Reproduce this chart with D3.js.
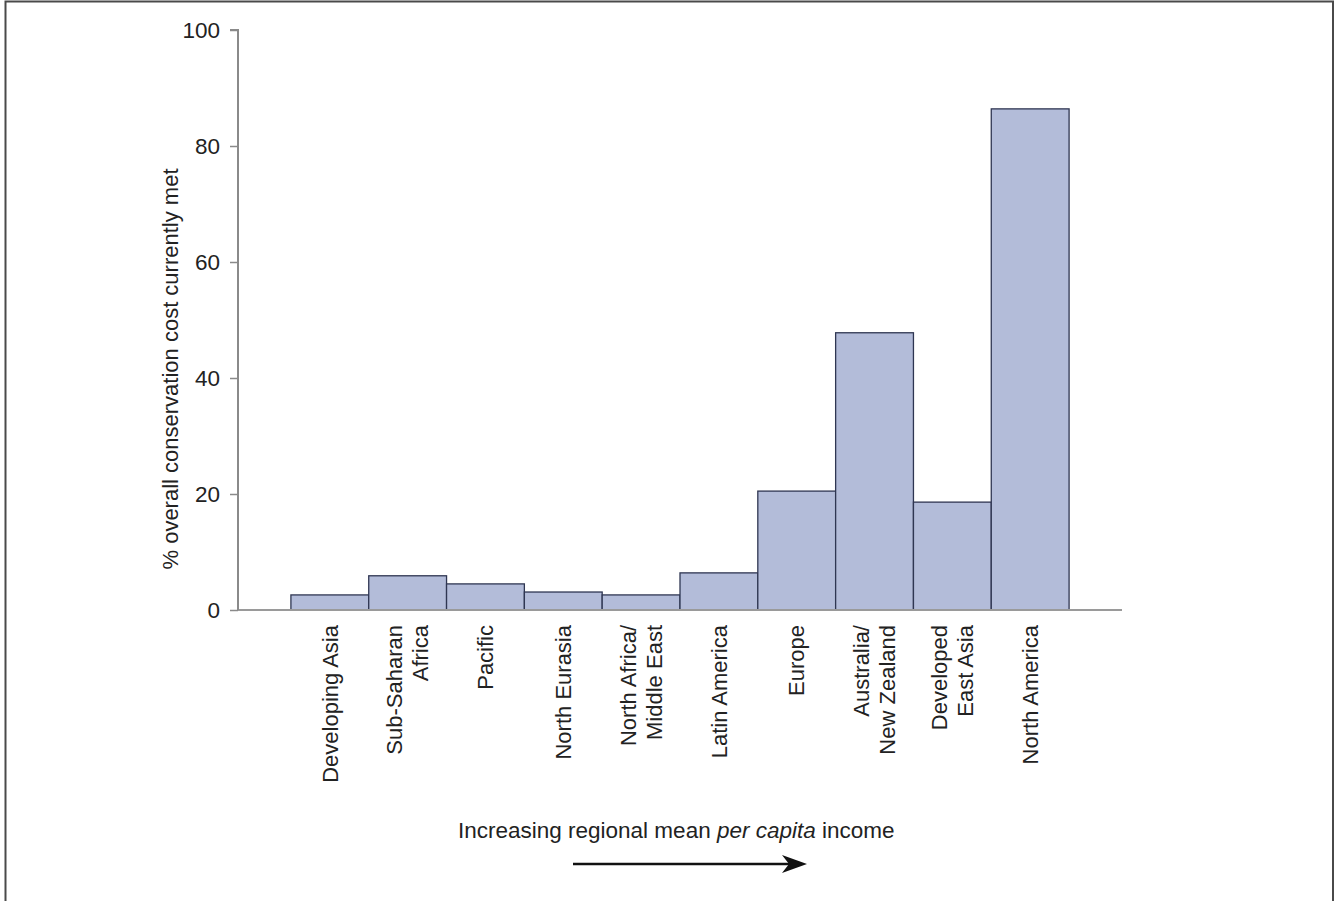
<!DOCTYPE html>
<html>
<head>
<meta charset="utf-8">
<script src="https://cdn.jsdelivr.net/npm/d3@7"></script>
<style>
  html, body { margin: 0; padding: 0; background: #fff; }
  svg { display: block; font-family: "Liberation Sans", Arial, Helvetica, sans-serif; }
</style>
</head>
<body>
<svg id="chart" width="1335" height="901"></svg>
<script>
const categories = ["Developing Asia", "Sub-Saharan Africa", "Pacific", "North Eurasia",
  "North Africa/ Middle East", "Latin America", "Europe", "Australia/ New Zealand",
  "Developed East Asia", "North America"];
const labelLines = [["Developing Asia"], ["Sub-Saharan", "Africa"], ["Pacific"], ["North Eurasia"],
  ["North Africa/", "Middle East"], ["Latin America"], ["Europe"], ["Australia/", "New Zealand"],
  ["Developed", "East Asia"], ["North America"]];
const values = [2.6, 5.9, 4.5, 3.1, 2.6, 6.4, 20.5, 47.8, 18.6, 86.4];
const yTicks = [0, 20, 40, 60, 80, 100];
const yTitle = "% overall conservation cost currently met";
const captionParts = [["Increasing regional mean ", false], ["per capita", true], [" income", false]];

const svg = d3.select("#chart");

// frame
svg.append("rect").attr("x", 5.5).attr("y", 1.5).attr("width", 1327.5).attr("height", 910)
  .attr("fill", "none").attr("stroke", "#4a4a4a").attr("stroke-width", 2);

const x = d3.scaleBand().domain(categories).range([238, 1122]).paddingInner(0).paddingOuter(0.68);
const y = d3.scaleLinear().domain([0, 100]).range([610, 30]);

// bars
svg.append("g").selectAll("rect").data(values).join("rect")
  .attr("x", (d, i) => x(categories[i]))
  .attr("y", d => y(d))
  .attr("width", x.bandwidth())
  .attr("height", d => y(0) - y(d))
  .attr("fill", "#b3bcd9")
  .attr("stroke", "#2f3652")
  .attr("stroke-width", 1.3);

// x baseline
svg.append("line").attr("x1", 238).attr("x2", 1122).attr("y1", y(0)).attr("y2", y(0))
  .attr("stroke", "#9a9a9a").attr("stroke-width", 2);

// y axis
const yAxis = d3.axisLeft(y).tickValues(yTicks).tickSize(8).tickPadding(10).tickFormat(d3.format("d"));
const gy = svg.append("g").attr("transform", "translate(238,0)").call(yAxis);
gy.select(".domain").attr("stroke", "#8a8a8a").attr("stroke-width", 2).attr("d", `M-8,${y(100)}H0V${y(0)}`);
gy.selectAll(".tick line").attr("stroke", "#8a8a8a").attr("stroke-width", 1.5);
gy.selectAll(".tick text").attr("font-size", 22.5).attr("fill", "#222")
  .attr("font-family", "'Liberation Sans', Arial, sans-serif");

// y title
svg.append("text").attr("transform", "translate(170,369) rotate(-90)")
  .attr("text-anchor", "middle").attr("dy", "0.35em")
  .attr("font-size", 22).attr("fill", "#222").text(yTitle);

// x labels
const lineGap = 26;
const gl = svg.append("g");
categories.forEach((c, i) => {
  const lines = labelLines[i];
  const cx = x(c) + x.bandwidth() / 2;
  lines.forEach((t, j) => {
    const off = (j - (lines.length - 1) / 2) * lineGap;
    gl.append("text")
      .attr("transform", `translate(${cx + off},625) rotate(-90)`)
      .attr("text-anchor", "end").attr("dy", "0.35em")
      .attr("font-size", 22).attr("fill", "#222").text(t);
  });
});

// caption
const cap = svg.append("text").attr("x", 458).attr("y", 838).attr("font-size", 22.5).attr("fill", "#222");
captionParts.forEach(([t, it]) => {
  cap.append("tspan").attr("font-style", it ? "italic" : "normal").text(t);
});

// arrow
svg.append("line").attr("x1", 573).attr("x2", 792).attr("y1", 864).attr("y2", 864)
  .attr("stroke", "#111").attr("stroke-width", 2.5);
svg.append("path").attr("d", "M807,864 L782,855 L789,864 L782,873 Z").attr("fill", "#111");
</script>
</body>
</html>
